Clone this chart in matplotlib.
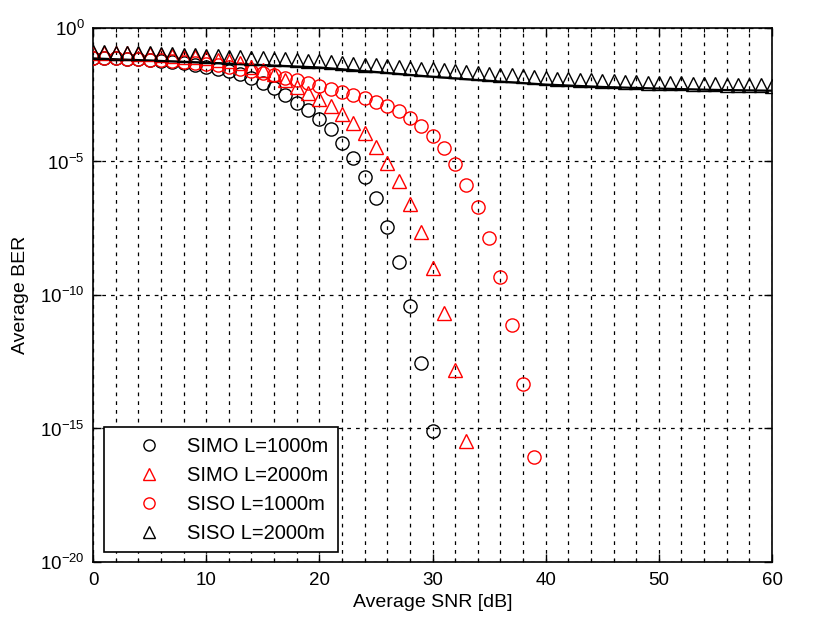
import numpy as np
import matplotlib
matplotlib.use("Agg")
import matplotlib.pyplot as plt
from matplotlib.ticker import FixedLocator, MultipleLocator

plt.rcParams['font.family'] = ['Liberation Sans', 'DejaVu Sans']
plt.rcParams['mathtext.fontset'] = 'custom'
plt.rcParams['mathtext.rm'] = 'Liberation Sans'
plt.rcParams['mathtext.it'] = 'Liberation Sans'
plt.rcParams['mathtext.default'] = 'regular'

# ---- data: BER given as -log10(BER) ----
snr_simo1000 = list(range(0, 31))
nlog_simo1000 = [1.12, 1.13, 1.14, 1.16, 1.18, 1.21, 1.24, 1.28, 1.33, 1.39,
                 1.45, 1.52, 1.62, 1.74, 1.88, 2.05, 2.25, 2.50, 2.80, 3.08,
                 3.42, 3.80, 4.31, 4.87, 5.58, 6.37, 7.45, 8.76, 10.43, 12.53,
                 15.08]

snr_simo2000 = list(range(0, 34))
nlog_simo2000 = [0.92, 0.93, 0.94, 0.95, 0.97, 0.99, 1.01, 1.04, 1.07, 1.10,
                 1.14, 1.19, 1.25, 1.33, 1.45, 1.58, 1.72, 1.95, 2.20, 2.42,
                 2.66, 2.93, 3.23, 3.56, 3.95, 4.45, 5.05, 5.73, 6.59, 7.64,
                 8.99, 10.67, 12.81, 15.47]

snr_siso1000 = list(range(0, 40))
nlog_siso1000 = [1.12, 1.13, 1.14, 1.15, 1.17, 1.19, 1.21, 1.24, 1.27, 1.31,
                 1.35, 1.40, 1.46, 1.53, 1.61, 1.69, 1.77, 1.86, 1.96, 2.06,
                 2.17, 2.27, 2.38, 2.50, 2.63, 2.77, 2.93, 3.12, 3.36, 3.68,
                 4.05, 4.50, 5.09, 5.88, 6.72, 7.87, 9.31, 11.12, 13.33, 16.07]

snr_siso2000 = list(range(0, 61))
nlog_siso2000 = [0.90, 0.91, 0.92, 0.93, 0.94, 0.95, 0.97, 0.98, 1.00, 1.02,
                 1.04, 1.06, 1.08, 1.10, 1.12, 1.14, 1.16, 1.18, 1.20, 1.22,
                 1.25, 1.28, 1.31, 1.34, 1.37, 1.40, 1.43, 1.46, 1.49, 1.52,
                 1.55, 1.58, 1.62, 1.65, 1.69, 1.72, 1.75, 1.78, 1.81, 1.84,
                 1.87, 1.90, 1.92, 1.94, 1.96, 1.98, 2.00, 2.02, 2.03, 2.05,
                 2.06, 2.07, 2.08, 2.09, 2.10, 2.11, 2.12, 2.13, 2.14, 2.15,
                 2.16]

snr_siso2000_line = [0, 5, 10, 15, 20, 25, 30, 35, 40, 45, 50, 55, 60]
nlog_siso2000_line = [1.14, 1.22, 1.30, 1.39, 1.48, 1.65, 1.83, 1.98, 2.12,
                      2.21, 2.27, 2.32, 2.35]

labels = ['SIMO L=1000m', 'SIMO L=2000m', 'SISO L=1000m', 'SISO L=2000m']
yticks_exp = [0, -5, -10, -15, -20]


def ber(v):
    return 10.0 ** (-np.asarray(v, dtype=float))


fig = plt.figure(figsize=(8.27, 6.24), dpi=100)
ax = fig.add_axes([0.1125, 0.0994, 0.821, 0.8558])

ms = 9.5
ax.plot(snr_siso2000_line, ber(nlog_siso2000_line), '-', color='black',
        lw=1.6, zorder=3)
ax.plot(snr_simo1000, ber(nlog_simo1000), 'o', mfc='none', mec='black',
        ms=ms, mew=1.0, label=labels[0], zorder=4)
ax.plot(snr_simo2000, ber(nlog_simo2000), '^', mfc='none', mec='red',
        ms=ms, mew=1.0, label=labels[1], zorder=4)
ax.plot(snr_siso1000, ber(nlog_siso1000), 'o', mfc='none', mec='red',
        ms=ms, mew=1.0, label=labels[2], zorder=4)
ax.plot(snr_siso2000, ber(nlog_siso2000), '^', mfc='none', mec='black',
        ms=ms, mew=1.0, label=labels[3], zorder=4)

ax.set_yscale('log')
ax.set_xlim(0, 60)
ax.set_ylim(1e-20, 1e0)
ax.yaxis.set_major_locator(FixedLocator([10.0 ** e for e in yticks_exp]))
ax.yaxis.set_minor_locator(FixedLocator([]))
ax.set_yticklabels([r'$10^{%d}$' % e for e in yticks_exp])
ax.xaxis.set_major_locator(MultipleLocator(10))
ax.xaxis.set_minor_locator(MultipleLocator(2))

ax.tick_params(which='both', direction='in', top=True, right=True,
               labelsize=13.5, colors='black')
ax.tick_params(which='major', length=6, width=1.0)
ax.tick_params(which='minor', length=3, width=0.8)
ax.tick_params(axis='x', pad=7)
ax.tick_params(axis='y', pad=6)

gstyle = dict(color='black', linestyle=(0, (3, 4)), linewidth=0.9)
ax.grid(True, axis='x', which='both', **gstyle)
ax.grid(True, axis='y', which='major', **gstyle)
ax.set_axisbelow(True)
for s in ax.spines.values():
    s.set_linewidth(1.2)
    s.set_color('black')

ax.set_xlabel('Average SNR [dB]', fontsize=14, labelpad=4)
ax.set_ylabel('Average BER', fontsize=14, labelpad=8)

leg = ax.legend(loc='lower left', bbox_to_anchor=(0.016, 0.019),
                borderaxespad=0, fontsize=14.5, frameon=True, fancybox=False,
                edgecolor='black', framealpha=1, markerscale=0.85,
                handlelength=3.6, handletextpad=0.1, labelspacing=0.5,
                borderpad=0.45)
leg.get_frame().set_linewidth(1.2)
leg.set_zorder(10)

fig.savefig('out.png', dpi=100)
